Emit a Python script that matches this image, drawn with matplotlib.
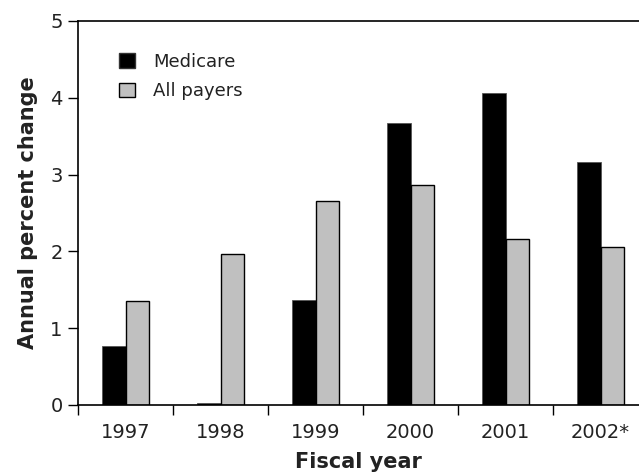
import matplotlib.pyplot as plt
import numpy as np
from matplotlib.patches import Patch

plt.rcParams['font.family'] = ['DejaVu Sans']

# dados
anos = ['1997', '1998', '1999', '2000', '2001', '2002*']
medicare = [0.77, 0.02, 1.37, 3.67, 4.06, 3.16]
todos = [1.36, 1.97, 2.65, 2.86, 2.16, 2.06]

fig = plt.figure(figsize=(6.39, 4.76), dpi=100)
ax = fig.add_axes([78/639, 1 - 405/476, 1 - 78/639, (405 - 21)/476])

x = np.arange(len(anos))
w = 0.25
ax.bar(x - w/2, medicare, width=w, color='black', edgecolor='#555555', linewidth=0.6)
ax.bar(x + w/2, todos, width=w, color='#c0c0c0', edgecolor='black', linewidth=1.0)

ax.set_xlim(-0.5, -0.5 + (639 - 78) / 95)
ax.set_ylim(0, 5)
ax.set_yticks(range(0, 6))

# ticks nas fronteiras dos grupos, rótulos nos centros
ax.set_xticks(np.arange(-0.5, 5, 1.0))
ax.set_xticklabels([])
ax.set_xticks(x, minor=True)
ax.set_xticklabels(anos, minor=True)
ax.tick_params(axis='x', which='major', direction='out', length=7, width=1)
ax.tick_params(axis='x', which='minor', length=0, labelsize=14, pad=13, colors='#222222')
ax.tick_params(axis='y', direction='out', length=7, width=1, labelsize=14, pad=4, colors='#222222')
ax.tick_params(axis='both', which='both', color='black')

for s in ['left', 'bottom', 'top']:
    ax.spines[s].set_linewidth(1.2)
ax.spines['right'].set_visible(False)

ax.set_ylabel('Annual percent change', fontsize=15, fontweight='heavy', labelpad=9, color='#222222')
ax.set_xlabel('Fiscal year', fontsize=15, fontweight='heavy', labelpad=7, color='#222222')

handles = [Patch(facecolor='black', edgecolor='#333333', label='Medicare'),
           Patch(facecolor='#c0c0c0', edgecolor='black', label='All payers')]
ax.legend(handles=handles, loc='upper left', bbox_to_anchor=(0.045, 0.96), frameon=False,
          fontsize=13, handlelength=0.85, handleheight=0.85, handletextpad=1.0,
          labelspacing=0.65, labelcolor='#222222')

plt.savefig('out.png', dpi=100)
